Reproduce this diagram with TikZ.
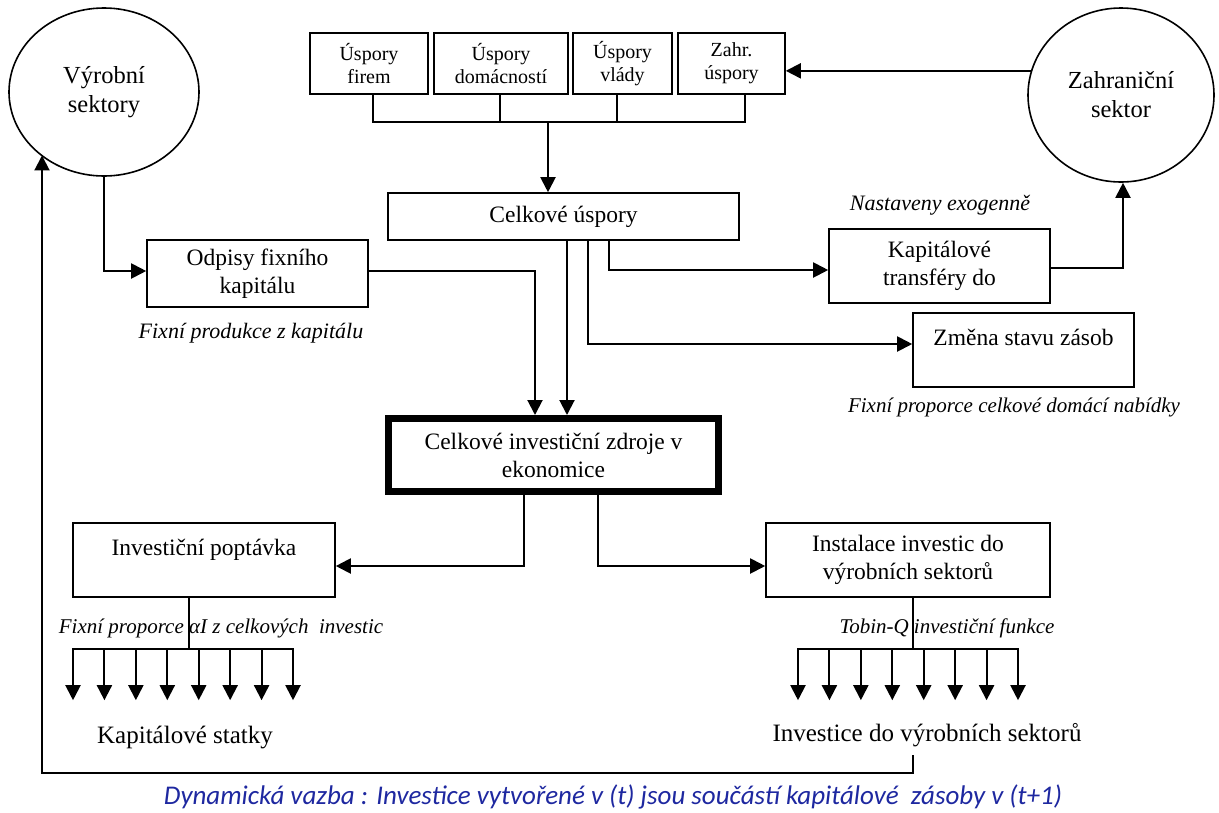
\documentclass[tikz,border=0pt]{standalone}
\usepackage{fontspec}
\setmainfont{Liberation Serif}
\newfontfamily\capfont{Carlito}
\usetikzlibrary{arrows.meta,shapes.geometric}
\definecolor{capblue}{RGB}{30,40,160}
\begin{document}
\begin{tikzpicture}[x=1pt,y=-1pt,
  ln/.style={line width=1.6pt},
  arr/.style={line width=2pt,-{Triangle[length=15pt,width=15pt]}},
  blk/.style={draw,line width=1.6pt,inner sep=0pt,align=center,font=\rmfamily\fontsize{23.5}{28}\selectfont},
  sblk/.style={blk,font=\rmfamily\fontsize{20}{23}\selectfont},
  sect/.style={draw,ellipse,line width=1.6pt,inner sep=0pt,align=center,font=\rmfamily\fontsize{24.5}{29}\selectfont},
  note/.style={inner sep=0pt,font=\rmfamily\fontsize{21}{25}\selectfont\itshape},
  tag/.style={inner sep=0pt,font=\rmfamily\fontsize{25}{29}\selectfont}]
\useasboundingbox (0,0) rectangle (1219,812);

% sectors
\node[sect,minimum width=190pt,minimum height=168pt] (vs) at (104,92) {Výrobní\\sektory};
\node[sect,minimum width=186pt,minimum height=174pt] (zs) at (1121,95) {Zahraniční\\sektor};

% savings sources
\node[sblk,minimum width=118pt,minimum height=61pt] (uf) at (369,63.5) {Úspory\\firem};
\node[sblk,minimum width=134pt,minimum height=61pt] (ud) at (501,63.5) {Úspory\\domácností};
\node[sblk,minimum width=99pt,minimum height=61pt] (uv) at (622.5,63.5) {Úspory\\vlády};
\node[sblk,minimum width=107pt,minimum height=61pt] (uz) at (731.5,63.5) {Zahr.\\úspory};

% main chain
\node[blk,minimum width=351pt,minimum height=47pt] (cu) at (563.5,216.5) {Celkové úspory};
\node[blk,minimum width=221pt,minimum height=67pt] (od) at (257.5,273.5) {Odpisy fixního\\kapitálu};
\node[blk,minimum width=221pt,minimum height=74pt] (kt) at (939.5,266) {Kapitálové\\transféry do};
\node[blk,minimum width=221pt,minimum height=74pt] (zm) at (1023.5,350) {};
\node[blk,draw=none,anchor=base] (zmt) at (1023.5,345) {Změna stavu zásob};
\node[blk,line width=7pt,minimum width=330pt,minimum height=73pt] (mb) at (553.5,455) {Celkové investiční zdroje v\\ekonomice};
\node[blk,minimum width=262pt,minimum height=74pt] (ip) at (204,560) {};
\node[blk,draw=none,anchor=base] (ipt) at (204,555) {Investiční poptávka};
\node[blk,minimum width=284pt,minimum height=74pt] (ins) at (908,560) {Instalace investic do\\výrobních sektorů};

% annotations
\node[note,font=\rmfamily\fontsize{22}{26}\selectfont\itshape] (nex) at (940,205) {Nastaveny exogenně};
\node[note,font=\rmfamily\fontsize{22}{26}\selectfont\itshape] (nfp) at (251,333) {Fixní produkce z kapitálu};
\node[note] (nfd) at (1014,407) {Fixní proporce celkové domácí nabídky};
\node[note] (nai) at (221,628) {Fixní proporce αI z celkových~ investic};
\node[note] (ntq) at (947,628) {Tobin-Q investiční funkce};
\node[tag] (ks) at (185,737) {Kapitálové statky};
\node[tag] (isec) at (927,735) {Investice do výrobních sektorů};
\node[inner sep=0pt,text=capblue,font=\capfont\itshape\fontsize{27}{31}\selectfont] (cap) at (613,797)
  {Dynamická vazba : Investice vytvořené v (t) jsou součástí kapitálové~ zásoby v (t+1)};

% savings bus into total savings
\coordinate (bus) at (548,122);
\draw[ln] ([xshift=4pt]uf.south) |- (bus);
\draw[ln] ([xshift=-1pt]ud.south) |- (bus);
\draw[ln] ([xshift=-5.5pt]uv.south) |- (bus);
\draw[ln] ([xshift=13.5pt]uz.south) |- (bus);
\draw[arr] (bus) -- (bus |- cu.north);

% foreign sector
\draw[arr] (zs.165.6) -- (zs.165.6 -| uz.east);
\draw[arr] ([yshift=-2pt]kt.east) -| ([xshift=2pt]zs.south);

% flows around total savings
\draw[arr] (vs.south) |- ([yshift=2.5pt]od.west);
\draw[arr] ([yshift=2.5pt]od.east) -| ([xshift=-18.5pt]mb.north);
\draw[arr] ([xshift=3.5pt]cu.south) -- ([xshift=13.5pt]mb.north);
\draw[arr] ([xshift=45.5pt]cu.south) |- ([yshift=-4pt]kt.west);
\draw[arr] ([xshift=24.5pt]cu.south) |- ([yshift=6pt]zm.west);

% investment split
\draw[arr] ([xshift=-29.5pt]mb.south) |- ([yshift=-6pt]ip.east);
\draw[arr] ([xshift=44.5pt]mb.south) |- ([yshift=-6pt]ins.west);

% capital goods fan
\coordinate (ipj) at (189,649);
\draw[ln] (ipj |- ip.south) -- (ipj);
\draw[ln] (73,649) -- (293,649);
\foreach \i in {0,...,7}
  \draw[arr] ({73+\i*31.43},648.2) -- ++(0,52);

% sector investment fan
\coordinate (insj) at (913,649);
\draw[ln] (insj |- ins.south) -- (insj);
\draw[ln] (798,649) -- (1018,649);
\foreach \i in {0,...,7}
  \draw[arr] ({798+\i*31.43},648.2) -- ++(0,52);

% dynamic feedback loop
\coordinate (fb) at (913,755);
\coordinate (fbcorner) at (42,773);
\draw[arr] (fb) |- (fbcorner) -- (fbcorner |- vs.225.8);
\end{tikzpicture}
\end{document}
